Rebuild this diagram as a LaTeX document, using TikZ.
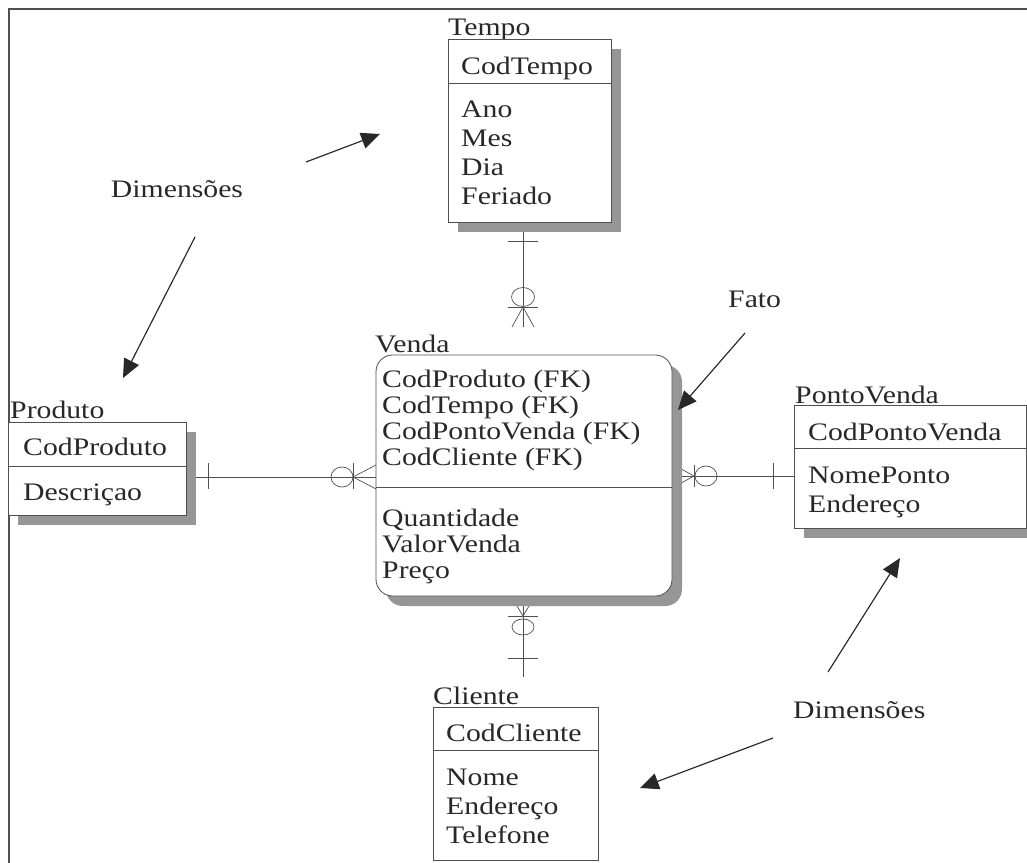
\documentclass[tikz,border=0pt]{standalone}
\usepackage{fontspec}
\setmainfont{Liberation Serif}[FakeStretch=1.18]
\usetikzlibrary{arrows.meta,fit,shadows,backgrounds}

\definecolor{ERText}{RGB}{40,40,40}
\definecolor{ERLine}{RGB}{80,80,80}
\definecolor{ERShade}{RGB}{150,150,150}
\newcommand{\boxfont}{\fontsize{21.5}{24}\selectfont}

\begin{document}
\begin{tikzpicture}[x=0.03cm, y=-0.03cm,
    ent/.style={draw=ERLine, line width=0.7pt, fill=white, inner sep=0pt},
    shd/.style={drop shadow={shadow xshift=0.3cm, shadow yshift=-0.3cm, fill=ERShade, opacity=1}},
    lbl/.style={anchor=base west, inner sep=0pt, text=ERText, font=\boxfont},
    rel/.style={draw=ERLine, line width=0.6pt},
    note/.style={draw=ERText, line width=1pt, -{Triangle[length=16pt,width=14pt]}}]
                \useasboundingbox (0,0) rectangle (1027,863);
                \clip (0,0) rectangle (1027,863);

                % Frame
                \draw[ERLine, line width=1.6pt] (9,863) -- (9,9) -- (1027,9);

                % Tempo
                \node[lbl] (tempo-name) at (448,35) {Tempo};
                \node[ent, shd, fit={(448,39) (611,222)}] (tempo) {};
                \draw[rel] (tempo.west |- 0,83) -- (tempo.east |- 0,83);
                \node[lbl] (tempo-key) at (461,74) {CodTempo};
                \foreach \a [count=\i] in {Ano,Mes,Dia,Feriado}
                    \node[lbl] (tempo-\i) at (461,{117+29*(\i-1)}) {\a};

                % Venda (fact table)
                \node[lbl] (venda-name) at (375,352) {Venda};
                \node[ent, shd, rounded corners=0.5cm, fit={(376,355) (672,596)}] (venda) {};
                \draw[rel] (venda.west |- 0,487) -- (venda.east |- 0,487);
                \foreach \a [count=\i] in {{CodProduto (FK)},{CodTempo (FK)},{CodPontoVenda (FK)},{CodCliente (FK)}}
                    \node[lbl] (venda-key\i) at (382,{387+26*(\i-1)}) {\a};
                \foreach \a [count=\i] in {Quantidade,ValorVenda,Preço}
                    \node[lbl] (venda-\i) at (382,{526+26*(\i-1)}) {\a};

                % Produto
                \node[lbl] (produto-name) at (10,418) {Produto};
                \node[ent, shd, fit={(8,422) (186,515)}] (produto) {};
                \draw[rel] (produto.west |- 0,466) -- (produto.east |- 0,466);
                \node[lbl] (produto-key) at (23,455) {CodProduto};
                \node[lbl] (produto-1) at (23,500) {Descriçao};

                % PontoVenda
                \node[lbl] (ponto-name) at (795,403) {PontoVenda};
                \node[ent, shd, fit={(794,405) (1026,528)}] (ponto) {};
                \draw[rel] (ponto.west |- 0,448) -- (ponto.east |- 0,448);
                \node[lbl] (ponto-key) at (808,440) {CodPontoVenda};
                \foreach \a [count=\i] in {NomePonto,Endereço}
                    \node[lbl] (ponto-\i) at (808,{483+29*(\i-1)}) {\a};

                % Cliente
                \node[lbl] (cliente-name) at (433,704) {Cliente};
                \node[ent, fit={(433,707) (598,860)}] (cliente) {};
                \draw[rel] (cliente.west |- 0,750) -- (cliente.east |- 0,750);
                \node[lbl] (cliente-key) at (446,741) {CodCliente};
                \foreach \a [count=\i] in {Nome,Endereço,Telefone}
                    \node[lbl] (cliente-\i) at (446,{785+29*(\i-1)}) {\a};

                % Relationships (under the boxes and shadows)
                \begin{scope}[on background layer]
                    % Tempo - Venda
                    \coordinate (tv-end) at (523,327);
                    \draw[rel] (tempo.south -| tv-end) -- (tv-end);
                    \draw[rel] (508,241) -- (538,241);
                    \draw[rel] (523,297) ellipse [x radius=11.5, y radius=9.5];
                    \draw[rel] (508,307) -- (538,307);
                    \draw[rel] (512,327) -- (523,307) -- (534,327);
                    % Produto - Venda
                    \draw[rel] (produto.east |- 0,477) -- (venda.west |- 0,477);
                    \draw[rel] (208,463) -- (208,489);
                    \draw[rel] (342,477) ellipse [x radius=11, y radius=10];
                    \draw[rel] (353,463) -- (353,489);
                    \draw[rel] (376,465) -- (353,477) -- (376,489);
                    % Venda - PontoVenda
                    \draw[rel] (venda.east |- 0,476) -- (ponto.west |- 0,476);
                    \draw[rel] (672,464) -- (694,476) -- (672,488);
                    \draw[rel] (694,465) -- (694,487);
                    \draw[rel] (706,476) ellipse [x radius=11, y radius=10];
                    \draw[rel] (773,463) -- (773,489);
                    % Venda - Cliente
                    \coordinate (vc-end) at (523,677);
                    \draw[rel] (venda.south -| vc-end) -- (vc-end);
                    \draw[rel] (511,596) -- (523,616) -- (535,596);
                    \draw[rel] (508,616) -- (538,616);
                    \draw[rel] (523,627) ellipse [x radius=11, y radius=8];
                    \draw[rel] (508,658) -- (538,658);
                \end{scope}

                % Notes
                \node[lbl, anchor=base] (dim-top) at (177,197) {Dimensões};
                \node[lbl] (fato) at (728,307) {Fato};
                \node[lbl] (dim-bottom) at (793,718) {Dimensões};
                \coordinate (n1) at (306,162);  \coordinate (n1-tip) at (380,134);
                \coordinate (n2) at (195,237);  \coordinate (n2-tip) at (123,378);
                \coordinate (n3) at (745,333);  \coordinate (n3-tip) at (678,410);
                \coordinate (n4) at (828,672);  \coordinate (n4-tip) at (900,558);
                \coordinate (n5) at (773,738);  \coordinate (n5-tip) at (640,788);
                \draw[note] (n1) -- (n1-tip);
                \draw[note] (n2) -- (n2-tip);
                \draw[note] (n3) -- (n3-tip);
                \draw[note] (n4) -- (n4-tip);
                \draw[note] (n5) -- (n5-tip);
\end{tikzpicture}
\end{document}
